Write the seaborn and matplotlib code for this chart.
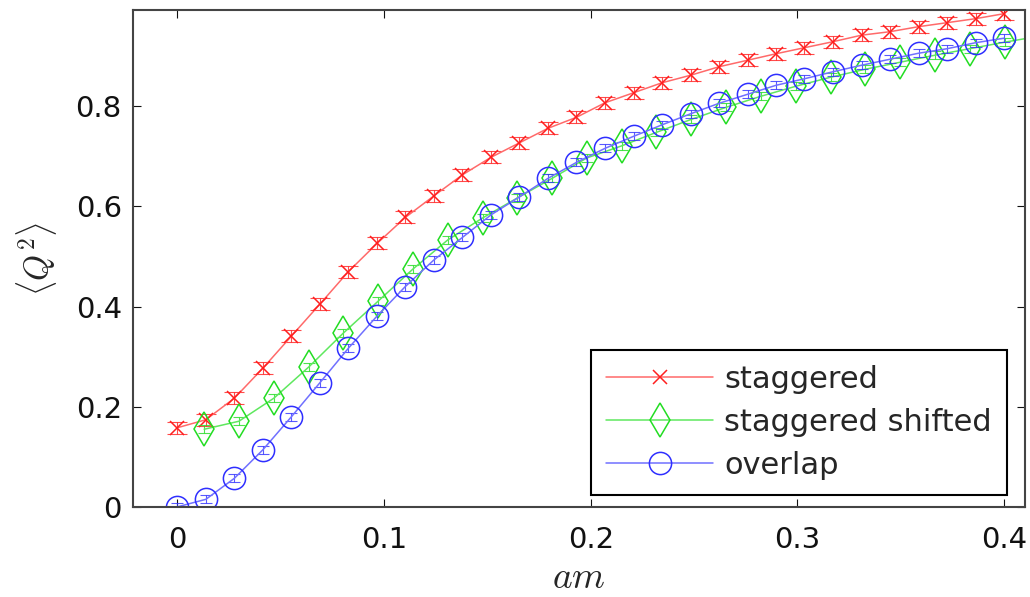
import matplotlib
matplotlib.use("Agg")
import matplotlib.pyplot as plt
import seaborn as sns
import pandas as pd
from matplotlib.ticker import FormatStrFormatter

# ---- data ----
am = [0.0, 0.0138, 0.0276, 0.0414, 0.0552, 0.0690, 0.0828, 0.0966, 0.1103, 0.1241,
      0.1379, 0.1517, 0.1655, 0.1793, 0.1931, 0.2069, 0.2207, 0.2345, 0.2483, 0.2621,
      0.2759, 0.2897, 0.3034, 0.3172, 0.3310, 0.3448, 0.3586, 0.3724, 0.3862, 0.4000]
staggered = [0.158, 0.174, 0.217, 0.277, 0.341, 0.405, 0.470, 0.526, 0.578, 0.621,
             0.663, 0.698, 0.727, 0.756, 0.778, 0.807, 0.827, 0.847, 0.862, 0.879,
             0.892, 0.905, 0.917, 0.929, 0.942, 0.949, 0.959, 0.967, 0.975, 0.985]
staggered_err = [0.012, 0.012, 0.012, 0.012, 0.012, 0.012, 0.012, 0.012, 0.012, 0.012,
                 0.012, 0.012, 0.012, 0.012, 0.012, 0.012, 0.012, 0.012, 0.012, 0.012,
                 0.012, 0.012, 0.012, 0.012, 0.012, 0.012, 0.012, 0.012, 0.012, 0.012]
overlap = [0.000, 0.015, 0.057, 0.114, 0.180, 0.248, 0.317, 0.381, 0.440, 0.493,
           0.538, 0.583, 0.619, 0.656, 0.688, 0.716, 0.740, 0.763, 0.785, 0.806,
           0.824, 0.842, 0.855, 0.869, 0.882, 0.894, 0.906, 0.915, 0.927, 0.936]
overlap_err = [0.008, 0.008, 0.008, 0.008, 0.008, 0.008, 0.008, 0.008, 0.008, 0.008,
               0.008, 0.008, 0.008, 0.008, 0.008, 0.008, 0.008, 0.008, 0.008, 0.008,
               0.008, 0.008, 0.008, 0.008, 0.008, 0.008, 0.008, 0.008, 0.008, 0.008]
am_shifted = [0.0130, 0.0298, 0.0467, 0.0635, 0.0803, 0.0972, 0.1140, 0.1308, 0.1477, 0.1645,
              0.1813, 0.1982, 0.2150, 0.2318, 0.2487, 0.2655, 0.2823, 0.2992, 0.3160, 0.3328,
              0.3497, 0.3665, 0.3833, 0.4002, 0.4170]
staggered_shifted = [0.155, 0.171, 0.217, 0.279, 0.347, 0.411, 0.475, 0.533, 0.577, 0.617,
                     0.656, 0.697, 0.721, 0.748, 0.774, 0.798, 0.820, 0.840, 0.858, 0.874,
                     0.888, 0.902, 0.915, 0.928, 0.940]
shifted_err = [0.008, 0.008, 0.008, 0.008, 0.008, 0.008, 0.008, 0.008, 0.008, 0.008,
               0.008, 0.008, 0.008, 0.008, 0.008, 0.008, 0.008, 0.008, 0.008, 0.008,
               0.008, 0.008, 0.008, 0.008, 0.008]

labels = ["staggered", "staggered shifted", "overlap"]
xticks = [0, 0.1, 0.2, 0.3, 0.4]
yticks = [0, 0.2, 0.4, 0.6, 0.8]

sns.set_theme(style="ticks")
plt.rcParams["font.family"] = ["DejaVu Sans"]
plt.rcParams["mathtext.fontset"] = "cm"

fig = plt.figure(figsize=(10.30, 5.97), dpi=100)
ax = fig.add_axes([0.129, 0.151, 0.866, 0.832])

# (strong marker colour, lighter line colour)
red = ("#ff1f1f", "#ff6a6a")
green = ("#22dd22", "#5fe85f")
blue = ("#2f2fff", "#7070ff")

series = [
    (am, staggered, staggered_err, red, "x", 10, 7, labels[0]),
    (am_shifted, staggered_shifted, shifted_err, green, "d", 17, 4, labels[1]),
    (am, overlap, overlap_err, blue, "o", 16, 4, labels[2]),
]
for xs, ys, es, (col, lcol), mk, ms, cap, lab in series:
    df = pd.DataFrame({"x": xs, "y": ys})
    ax.errorbar(xs, ys, yerr=es, fmt="none", ecolor=col, elinewidth=0.8,
                capsize=cap, capthick=0.8, alpha=0.8, zorder=2)
    sns.lineplot(data=df, x="x", y="y", ax=ax, color=lcol, marker=mk,
                 markersize=ms, markerfacecolor="none", markeredgecolor=col,
                 markeredgewidth=1.1, linewidth=1.1, label=lab,
                 sort=False, estimator=None)

ax.set_xlim(-0.0215, 0.41)
ax.set_ylim(0, 0.992)
ax.set_xticks(xticks)
ax.set_yticks(yticks)
ax.xaxis.set_major_formatter(FormatStrFormatter("%g"))
ax.yaxis.set_major_formatter(FormatStrFormatter("%g"))
ax.tick_params(direction="in", length=6, width=0.8, top=True, right=True,
               labelsize=21, colors="#111111")
ax.tick_params(axis="x", pad=14)
ax.tick_params(axis="y", pad=8)
for s in ax.spines.values():
    s.set_visible(True)
    s.set_linewidth(1.5)
    s.set_color("#444444")

ax.set_xlabel(r"$am$", fontsize=27, labelpad=4)
ax.set_ylabel(r"$\langle Q^2\rangle$", fontsize=24, labelpad=12)

leg = ax.legend(loc="lower right", bbox_to_anchor=(0.98, 0.024), fontsize=22,
                frameon=True, fancybox=False, framealpha=1, edgecolor="black",
                handlelength=3.5, handletextpad=0.36, labelspacing=0.45,
                borderpad=0.5, borderaxespad=0)
leg.get_frame().set_linewidth(1.5)

fig.savefig("out.png", dpi=100)
